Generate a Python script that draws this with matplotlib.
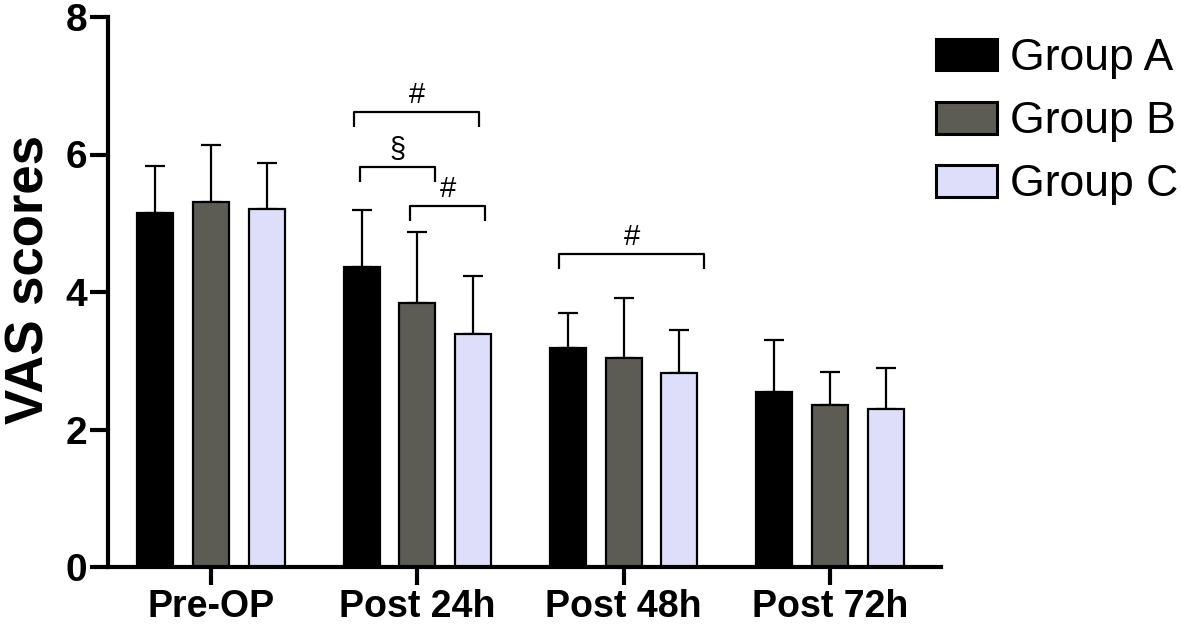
import numpy as np
import matplotlib.pyplot as plt

plt.rcParams['font.family'] = ['Liberation Sans', 'DejaVu Sans']

# VAS scores, mean and upper SD
timepoints = ['Pre-OP', 'Post 24h', 'Post 48h', 'Post 72h']
groups = ['Group A', 'Group B', 'Group C']
means_a = [5.15, 4.37, 3.18, 2.55]
means_b = [5.31, 3.84, 3.04, 2.36]
means_c = [5.21, 3.39, 2.82, 2.30]
sd_a = [0.68, 0.82, 0.51, 0.75]
sd_b = [0.83, 1.03, 0.87, 0.48]
sd_c = [0.67, 0.85, 0.63, 0.59]

# significance brackets: (x start, x end, y, label)
brackets = [
    (0.694, 1.300, 6.62, '#'),
    (0.723, 1.087, 5.82, '§'),
    (0.966, 1.330, 5.25, '#'),
    (1.689, 2.388, 4.55, '#'),
]

colors = ['#000000', '#5c5c55', '#dedefa']

fig = plt.figure(figsize=(11.81, 6.25), dpi=100)
ax = fig.add_axes([0.0914, 0.0928, 0.797 - 0.0914, 0.9728 - 0.0928])

x = np.arange(len(timepoints))
offset = 0.27
width = 0.175
all_means = [means_a, means_b, means_c]
all_sd = [sd_a, sd_b, sd_c]
for i in range(3):
    pos = x + (i - 1) * offset
    ax.bar(pos, all_means[i], width, color=colors[i], edgecolor='black',
           linewidth=1.6, label=groups[i], zorder=2)
    ax.errorbar(pos, all_means[i], yerr=[np.zeros(4), all_sd[i]], fmt='none',
                ecolor='black', elinewidth=1.6, capsize=7, capthick=1.6, zorder=1)

for x0, x1, y, lab in brackets:
    ax.plot([x0, x0, x1, x1], [y - 0.22, y, y, y - 0.22], color='black', lw=1.6,
            solid_capstyle='butt', clip_on=False)
    ax.text((x0 + x1) / 2, y + 0.04, lab, ha='center', va='bottom', fontsize=21)

ax.set_xlim(-0.5, 3.54)
ax.set_ylim(0, 8)
ax.set_yticks([0, 2, 4, 6, 8])
ax.set_xticks(x)
ax.set_xticklabels(timepoints, fontsize=27, fontweight='bold')
for lab in ax.get_yticklabels():
    lab.set_fontsize(28)
    lab.set_fontweight('bold')
ax.tick_params(axis='y', length=13, width=3, pad=2)
ax.tick_params(axis='x', length=13, width=3, pad=3)
for s in ['top', 'right']:
    ax.spines[s].set_visible(False)
for s in ['left', 'bottom']:
    ax.spines[s].set_linewidth(3)

fig.text(30 / 1181, 1 - 280 / 625, 'VAS scores', rotation=90, ha='center', va='center',
         fontsize=38, fontweight='bold')

leg = ax.legend(loc='upper left', bbox_to_anchor=(936 / 1181, 1 - 38 / 625),
                bbox_transform=fig.transFigure, frameon=False, fontsize=32,
                handlelength=1.37, handleheight=0.72, handletextpad=0.3,
                labelspacing=0.5, borderpad=0, borderaxespad=0)
for h in leg.legend_handles:
    h.set_linewidth(2.2)

fig.savefig('out.png', dpi=100)
